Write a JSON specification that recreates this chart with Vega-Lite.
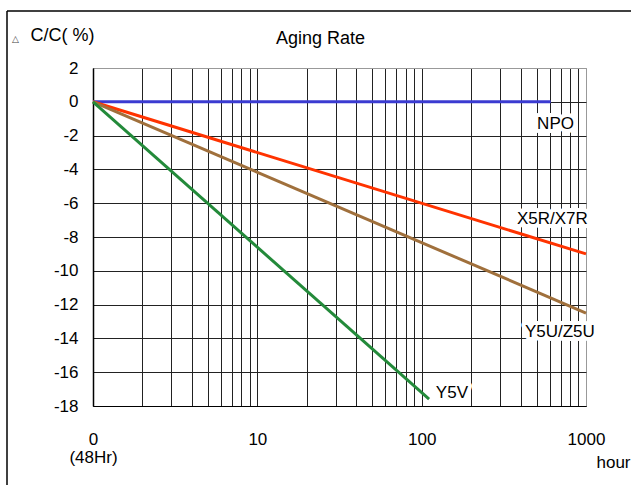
{
  "$schema": "https://vega.github.io/schema/vega-lite/v6.json",
  "width": 493,
  "height": 338,
  "autosize": {"type": "none"},
  "padding": {"left": 93, "top": 68, "right": 45, "bottom": 79},
  "background": "white",
  "config": {"font": "Liberation Sans", "view": {"stroke": "#999", "strokeWidth": 1}},
  "datasets": {
    "curves": [
      {"series": "NPO", "hour": 1, "change": 0},
      {"series": "NPO", "hour": 610, "change": 0},
      {"series": "X5R/X7R", "hour": 1, "change": 0},
      {"series": "X5R/X7R", "hour": 1000, "change": -9},
      {"series": "Y5U/Z5U", "hour": 1, "change": 0},
      {"series": "Y5U/Z5U", "hour": 1000, "change": -12.5},
      {"series": "Y5V", "hour": 1, "change": 0},
      {"series": "Y5V", "hour": 111, "change": -17.6}
    ],
    "labels": [
      {"series": "NPO", "hour": 504, "change": -1.61},
      {"series": "X5R/X7R", "hour": 380, "change": -7.23},
      {"series": "Y5U/Z5U", "hour": 425, "change": -13.92},
      {"series": "Y5V", "hour": 122, "change": -17.53}
    ],
    "frame": [
      {"part": "left", "hour": 0.2997, "hour2": 0.2997, "change": 5.373, "change2": -30},
      {"part": "top", "hour": 0.2997, "hour2": 10000, "change": 5.373, "change2": 5.373}
    ]
  },
  "resolve": {"axis": {"x": "independent", "y": "independent"}},
  "layer": [
    {
      "data": {"name": "curves"},
      "mark": {"type": "line", "strokeCap": "butt"},
      "encoding": {
        "x": {
          "field": "hour",
          "type": "quantitative",
          "scale": {"type": "log", "domain": [1, 1000], "nice": false},
          "axis": {
            "orient": "bottom",
            "values": [1, 2, 3, 4, 5, 6, 7, 8, 9, 10, 20, 30, 40, 50, 60, 70, 80, 90, 100, 200, 300, 400, 500, 600, 700, 800, 900, 1000],
            "format": "d",
            "labelExpr": "datum.value == 1 ? ['0', '(48Hr)'] : (datum.value == 10 || datum.value == 100 || datum.value == 1000) ? datum.label : ''",
            "grid": true,
            "gridColor": {"condition": {"test": "datum.value == 1000", "value": "#999"}, "value": "#222"},
            "gridWidth": 1,
            "ticks": false,
            "tickSize": 0,
            "domainColor": "black",
            "domainWidth": 1,
            "labelFontSize": 17,
            "labelColor": "black",
            "labelPadding": 25,
            "labelOverlap": false,
            "labelFlush": false,
            "labelBound": false,
            "labelLineHeight": 18,
            "title": "hour",
            "titleX": 537,
            "titleY": 61,
            "titleAlign": "right",
            "titleBaseline": "alphabetic",
            "titleFontSize": 17,
            "titleFontWeight": "normal",
            "titleColor": "black"
          }
        },
        "y": {
          "field": "change",
          "type": "quantitative",
          "scale": {"domain": [-18, 2], "nice": false, "zero": false},
          "axis": {
            "orient": "left",
            "values": [-18, -16, -14, -12, -10, -8, -6, -4, -2, 0, 2],
            "labelExpr": "'' + datum.value",
            "grid": true,
            "gridColor": {"condition": {"test": "datum.value == 2", "value": "#999"}, "value": "#222"},
            "gridWidth": 1,
            "ticks": false,
            "tickSize": 0,
            "domainColor": "black",
            "domainWidth": 1.5,
            "labelFontSize": 17,
            "labelColor": "black",
            "labelPadding": 15,
            "labelOverlap": false,
            "labelBound": false,
            "labelFlush": false,
            "title": "C/C( %)",
            "titleAngle": 0,
            "titleX": -63,
            "titleY": -28,
            "titleAlign": "left",
            "titleBaseline": "alphabetic",
            "titleFontSize": 18,
            "titleFontWeight": "normal",
            "titleColor": "black"
          }
        },
        "color": {
          "field": "series",
          "type": "nominal",
          "scale": {"domain": ["NPO", "X5R/X7R", "Y5U/Z5U", "Y5V"], "range": ["#3b3bd1", "#ff3300", "#a0703c", "#238a3a"]},
          "legend": null
        },
        "strokeWidth": {
          "field": "series",
          "type": "nominal",
          "scale": {"domain": ["NPO", "X5R/X7R", "Y5U/Z5U", "Y5V"], "range": [3, 3, 2, 2.5]},
          "legend": null
        }
      }
    },
    {
      "data": {"name": "frame"},
      "mark": {"type": "rule", "color": "black", "strokeWidth": 1.5},
      "encoding": {
        "x": {"field": "hour", "type": "quantitative", "axis": null},
        "x2": {"field": "hour2"},
        "y": {"field": "change", "type": "quantitative", "axis": null},
        "y2": {"field": "change2"}
      }
    },
    {
      "data": {"name": "labels"},
      "mark": {"type": "text", "align": "left", "baseline": "alphabetic", "fontSize": 17, "stroke": "white", "strokeWidth": 8, "strokeJoin": "round", "fill": "white"},
      "encoding": {
        "x": {"field": "hour", "type": "quantitative", "axis": null},
        "y": {"field": "change", "type": "quantitative", "axis": null},
        "text": {"field": "series"}
      }
    },
    {
      "data": {"name": "labels"},
      "mark": {"type": "text", "align": "left", "baseline": "alphabetic", "fontSize": 17, "fill": "black"},
      "encoding": {
        "x": {
          "field": "hour",
          "type": "quantitative",
          "axis": {
            "orient": "top",
            "labels": false,
            "ticks": false,
            "domain": false,
            "grid": false,
            "title": "Aging Rate",
            "titleX": 227,
            "titleY": -25,
            "titleAlign": "center",
            "titleBaseline": "alphabetic",
            "titleFontSize": 18,
            "titleFontWeight": "normal",
            "titleColor": "black"
          }
        },
        "y": {
          "field": "change",
          "type": "quantitative",
          "axis": {
            "orient": "right",
            "labels": false,
            "ticks": false,
            "domain": false,
            "grid": false,
            "title": "△",
            "titleAngle": 0,
            "titleX": -571,
            "titleY": -27,
            "titleAlign": "center",
            "titleBaseline": "alphabetic",
            "titleFont": "DejaVu Sans",
            "titleFontSize": 9,
            "titleFontWeight": "normal",
            "titleColor": "#444"
          }
        },
        "text": {"field": "series"}
      }
    }
  ]
}
